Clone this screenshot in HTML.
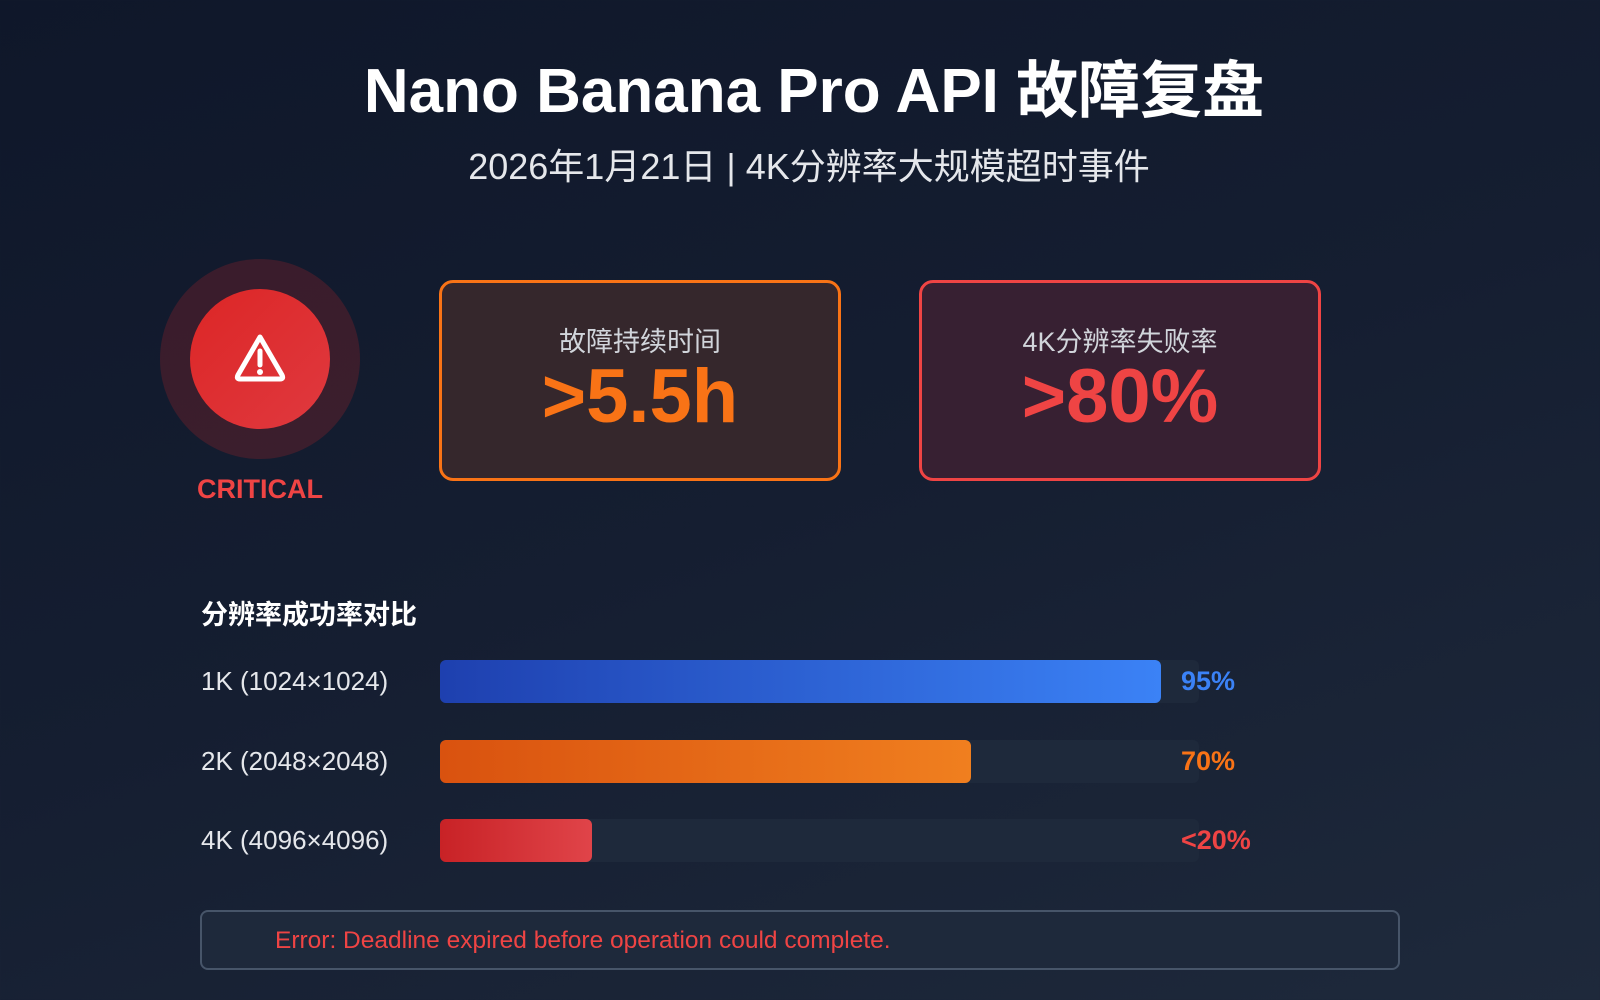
<!DOCTYPE html>
<html><head><meta charset="utf-8"><style>
*{margin:0;padding:0;box-sizing:border-box}
body{width:1600px;height:1000px;overflow:hidden;background:linear-gradient(160deg,#0f172a 0%,#151e31 50%,#1e293b 100%);font-family:"Liberation Sans","Noto Sans CJK SC",sans-serif;color:#fff;position:relative}
.abs{position:absolute}
.title{left:0;width:1628px;text-align:center;top:40px;font-size:62px;font-weight:bold}
.sub{left:0;width:1618px;text-align:center;top:138px;font-size:36px;color:#e5e7eb}
.outer{left:160px;top:259px;width:200px;height:200px;border-radius:50%;background:rgba(220,38,38,0.2)}
.inner{left:190px;top:289px;width:140px;height:140px;border-radius:50%;background:linear-gradient(135deg,#dc2626,#e0393f)}
.crit{left:160px;width:200px;text-align:center;top:474px;font-size:27px;font-weight:bold;color:#ef4444}
.card{top:280px;width:402px;height:201px;border-radius:14px;border:3px solid;text-align:center}
.card .l{margin-top:37px;font-size:27px;color:#d1d5db}
.card .v{font-size:76px;font-weight:bold;line-height:76px}
.sec{left:201px;top:593px;font-size:27px;font-weight:bold}
.lab{left:201px;font-size:26px;color:#e5e7eb}
.track{left:440px;width:759px;height:43px;border-radius:6px;background:#1e293b}
.fill{position:absolute;left:0;top:0;height:43px;border-radius:6px}
.pct{left:1181px;font-size:27px;font-weight:bold}
.err{left:200px;top:910px;width:1200px;height:60px;border:2px solid #475569;border-radius:8px;background:#1e293b}
.err span{position:absolute;left:73px;top:15px;font-size:24.5px;color:#ef4444}
</style></head><body>
<div class="abs title">Nano Banana Pro API 故障复盘</div>
<div class="abs sub">2026年1月21日 | 4K分辨率大规模超时事件</div>
<div class="abs outer"></div>
<div class="abs inner">
<svg width="140" height="140" viewBox="0 0 140 140"><path d="M70 48 L92 86 Q94 90 90 90 L50 90 Q46 90 48 86 Z" fill="none" stroke="#fff" stroke-width="5" stroke-linejoin="round"/><line x1="70" y1="62" x2="70" y2="76" stroke="#fff" stroke-width="5" stroke-linecap="round"/><circle cx="70" cy="83" r="3" fill="#fff"/></svg>
</div>
<div class="abs crit">CRITICAL</div>
<div class="abs card" style="left:439px;border-color:#f97316;background:#35272c"><div class="l">故障持续时间</div><div class="v" style="color:#f97316">&gt;5.5h</div></div>
<div class="abs card" style="left:919px;border-color:#ef4444;background:#372032"><div class="l">4K分辨率失败率</div><div class="v" style="color:#ef4444">&gt;80%</div></div>
<div class="abs sec">分辨率成功率对比</div>
<div id="bars"></div>
<div class="abs err"><span>Error: Deadline expired before operation could complete.</span></div>
<script>
const categories=["1K (1024×1024)","2K (2048×2048)","4K (4096×4096)"];
const values=[95,70,20];
const valueLabels=["95%","70%","<20%"];
const colors=[["#1e40af","#3b82f6"],["#d9520f","#f07f1f"],["#c82226","#e04449"]];
const textColors=["#3b82f6","#f97316","#ef4444"];
const root=document.getElementById('bars');
const x=v=>759*v/100;
categories.forEach((c,i)=>{
 const top=660+i*79.5;
 const lab=document.createElement('div');lab.className='abs lab';lab.style.top=(top+6)+'px';lab.textContent=c;
 
 
 root.appendChild(lab);
 const tr=document.createElement('div');tr.className='abs track';tr.style.top=top+'px';
 
 
 const f=document.createElement('div');f.className='fill';f.style.width=x(values[i])+'px';
 f.style.background='linear-gradient(90deg,'+colors[i][0]+','+colors[i][1]+')';
 
 
 tr.appendChild(f);root.appendChild(tr);
 const p=document.createElement('div');p.className='abs pct';p.style.top=(top+6)+'px';p.style.color=textColors[i];p.textContent=valueLabels[i];
 
 
 root.appendChild(p);
});
</script>
</body></html>
